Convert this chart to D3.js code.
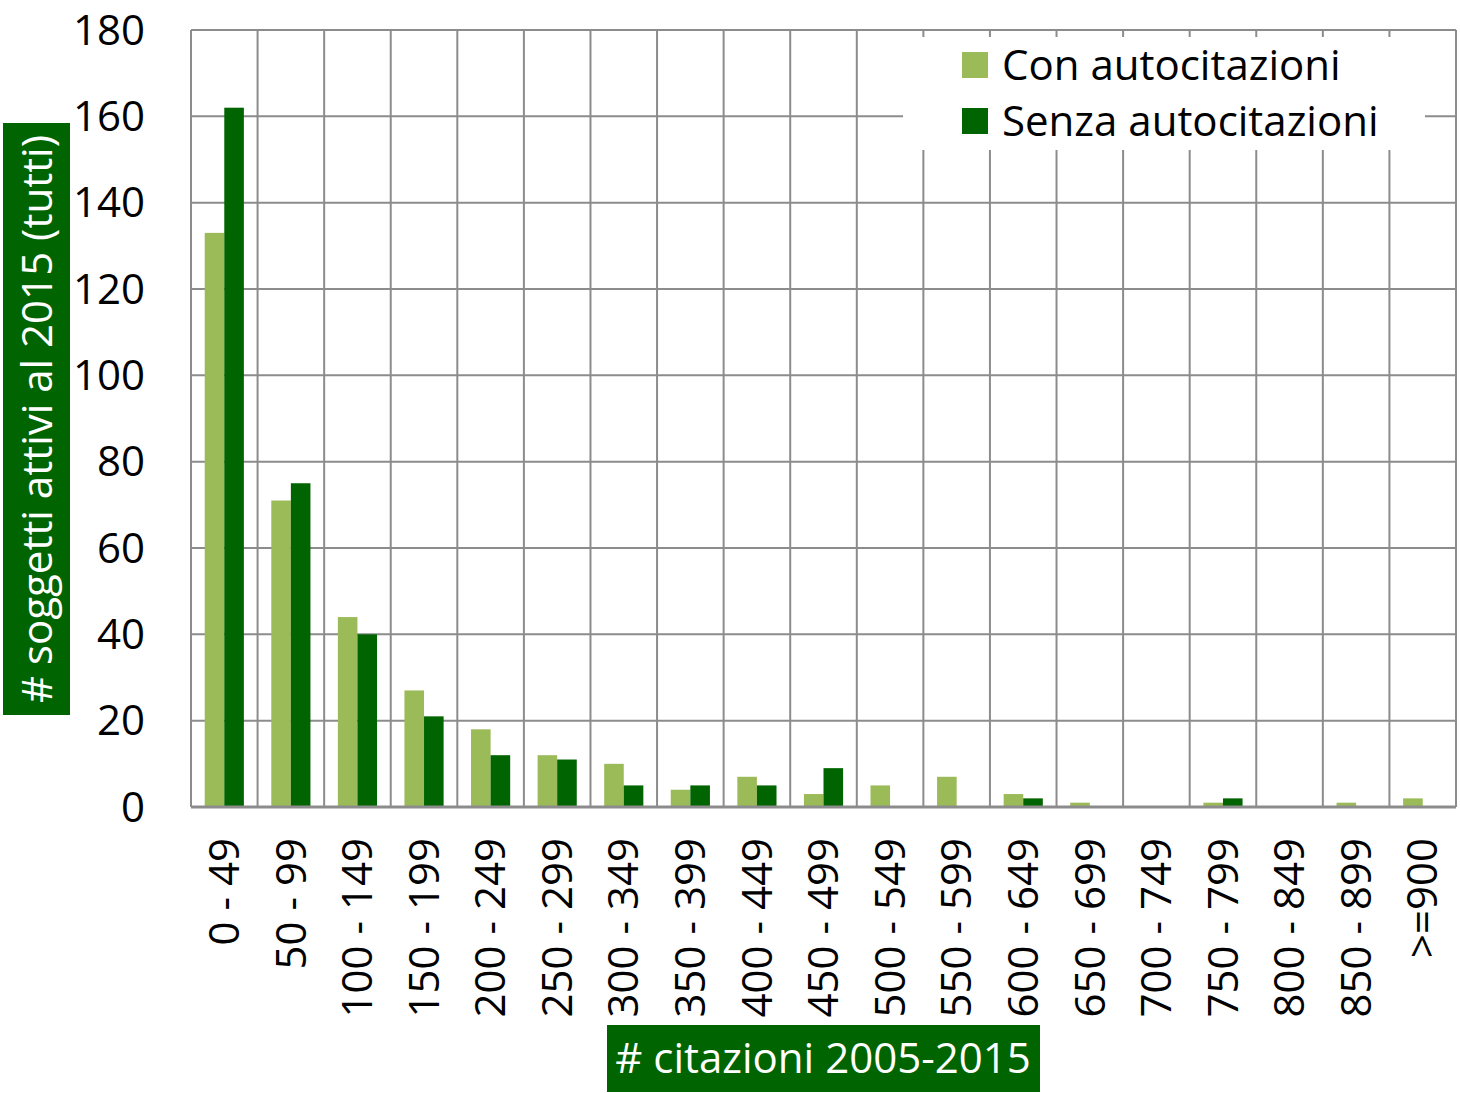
<!DOCTYPE html>
<html>
<head>
<meta charset="utf-8">
<script src="https://cdn.jsdelivr.net/npm/d3@7"></script>
<style>
  body { margin: 0; background: #fff; }
  text { font-family: "Open Sans", sans-serif; }
</style>
</head>
<body>
<svg></svg>
<script>
var categories = ["0 - 49", "50 - 99", "100 - 149", "150 - 199", "200 - 249", "250 - 299",
  "300 - 349", "350 - 399", "400 - 449", "450 - 499", "500 - 549", "550 - 599",
  "600 - 649", "650 - 699", "700 - 749", "750 - 799", "800 - 849", "850 - 899", ">=900"];
var conAuto = [133, 71, 44, 27, 18, 12, 10, 4, 7, 3, 5, 7, 3, 1, 0, 1, 0, 1, 2];
var senzaAuto = [162, 75, 40, 21, 12, 11, 5, 5, 5, 9, 0, 0, 2, 0, 0, 2, 0, 0, 0];
var seriesNames = ["Con autocitazioni", "Senza autocitazioni"];
var yTicks = [0, 20, 40, 60, 80, 100, 120, 140, 160, 180];

var screen = {width: 1460, height: 1093};
var plot = {left: 191, right: 1456, top: 30, bottom: 807};
var colors = ["#9bbb59", "#006400"];
var gridColor = "#8c8c8c";
var fontSize = 42;

var svg = d3.select("svg")
  .attr("width", screen.width)
  .attr("height", screen.height);

var xScale = d3.scaleBand()
  .domain(categories)
  .range([plot.left, plot.right])
  .paddingInner(0)
  .paddingOuter(0);

var inner = d3.scaleBand()
  .domain(seriesNames)
  .range([0, xScale.bandwidth()])
  .paddingOuter(0.7)
  .paddingInner(0);

var yScale = d3.scaleLinear()
  .domain([0, 180])
  .range([plot.bottom, plot.top]);

// horizontal grid
svg.append("g")
  .selectAll("line")
  .data(yTicks)
  .enter()
  .append("line")
  .attr("x1", plot.left)
  .attr("x2", plot.right)
  .attr("y1", function(d){ return yScale(d); })
  .attr("y2", function(d){ return yScale(d); })
  .attr("stroke", gridColor)
  .attr("stroke-width", 2);

// vertical grid
var edges = categories.map(function(c){ return xScale(c); });
edges.push(plot.right);
svg.append("g")
  .selectAll("line")
  .data(edges)
  .enter()
  .append("line")
  .attr("x1", function(d){ return d; })
  .attr("x2", function(d){ return d; })
  .attr("y1", plot.top)
  .attr("y2", plot.bottom)
  .attr("stroke", gridColor)
  .attr("stroke-width", 2);

// bars
var table = categories.map(function(c, i){
  return {cat: c, values: [conAuto[i], senzaAuto[i]]};
});
var groups = svg.append("g")
  .selectAll("g")
  .data(table)
  .enter()
  .append("g")
  .attr("transform", function(d){ return "translate(" + xScale(d.cat) + ",0)"; });

groups.selectAll("rect")
  .data(function(d){
    return d.values.map(function(v, j){ return {name: seriesNames[j], value: v, idx: j}; });
  })
  .enter()
  .append("rect")
  .attr("x", function(d){ return inner(d.name); })
  .attr("width", inner.bandwidth())
  .attr("y", function(d){ return yScale(d.value); })
  .attr("height", function(d){ return yScale(0) - yScale(d.value); })
  .attr("fill", function(d){ return colors[d.idx]; });

// bottom axis line
svg.append("line")
  .attr("x1", plot.left)
  .attr("x2", plot.right)
  .attr("y1", plot.bottom)
  .attr("y2", plot.bottom)
  .attr("stroke", gridColor)
  .attr("stroke-width", 3);

// y tick labels
svg.append("g")
  .selectAll("text")
  .data(yTicks)
  .enter()
  .append("text")
  .attr("x", 145)
  .attr("y", function(d){ return yScale(d); })
  .attr("dy", "0.35em")
  .attr("text-anchor", "end")
  .attr("font-size", fontSize)
  .text(function(d){ return d; });

// x tick labels (rotated)
svg.append("g")
  .selectAll("text")
  .data(categories)
  .enter()
  .append("text")
  .attr("transform", function(d){
    return "translate(" + (xScale(d) + xScale.bandwidth() / 2) + "," + 838 + ") rotate(-90)";
  })
  .attr("dy", "0.35em")
  .attr("text-anchor", "end")
  .attr("font-size", fontSize)
  .text(function(d){ return d; });

// legend
var legend = svg.append("g");
legend.append("rect")
  .attr("x", 903)
  .attr("y", 37)
  .attr("width", 522)
  .attr("height", 113)
  .attr("fill", "#fff");
var items = legend.selectAll("g")
  .data(seriesNames)
  .enter()
  .append("g")
  .attr("transform", function(d, i){ return "translate(962," + (52 + i * 56) + ")"; });
items.append("rect")
  .attr("width", 26)
  .attr("height", 26)
  .attr("fill", function(d, i){ return colors[i]; });
items.append("text")
  .attr("x", 40)
  .attr("y", 13)
  .attr("dy", "0.35em")
  .attr("font-size", fontSize)
  .text(function(d){ return d; });

// y axis title
svg.append("rect")
  .attr("x", 3)
  .attr("y", 123)
  .attr("width", 67)
  .attr("height", 592)
  .attr("fill", "#006400");
svg.append("text")
  .attr("transform", "translate(37,419) rotate(-90)")
  .attr("text-anchor", "middle")
  .attr("dy", "0.35em")
  .attr("font-size", fontSize)
  .attr("fill", "#fff")
  .text("# soggetti attivi al 2015 (tutti)");

// x axis title
svg.append("rect")
  .attr("x", 607)
  .attr("y", 1025)
  .attr("width", 433)
  .attr("height", 67)
  .attr("fill", "#006400");
svg.append("text")
  .attr("x", 823)
  .attr("y", 1058)
  .attr("text-anchor", "middle")
  .attr("dy", "0.35em")
  .attr("font-size", fontSize)
  .attr("fill", "#fff")
  .text("# citazioni 2005-2015");
</script>
</body>
</html>
